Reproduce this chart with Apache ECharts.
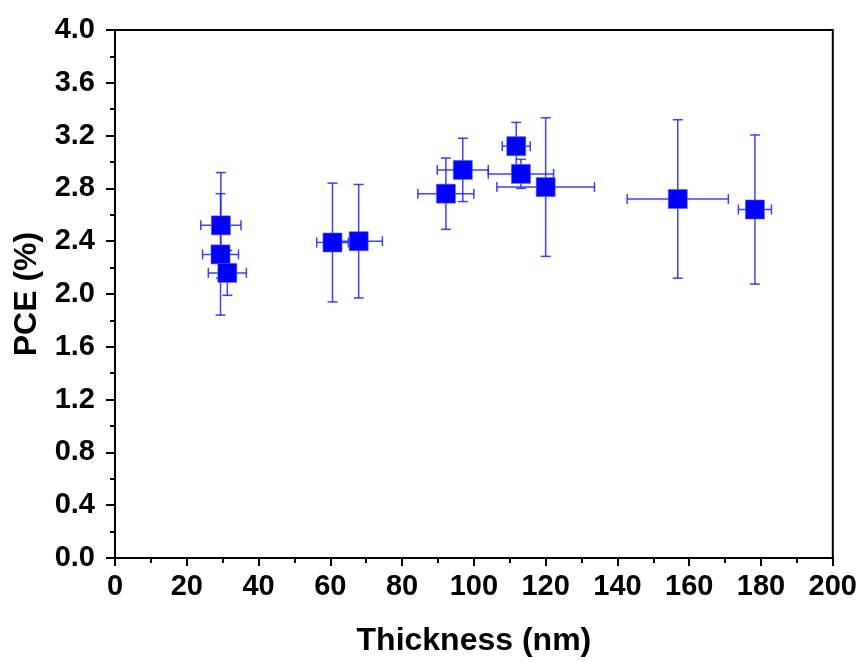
<!DOCTYPE html>
<html>
<head>
<meta charset="utf-8">
<script src="https://cdn.jsdelivr.net/npm/echarts@6/dist/echarts.min.js"></script>
<style>
  html, body { margin: 0; padding: 0; background: #fff; }
  #chart { width: 860px; height: 662px; }
</style>
</head>
<body>
<div id="chart"></div>
<script>
// thickness (nm) and PCE (%) with their error bars
const thickness = [29.5, 29.4, 31.3, 60.6, 67.9, 92.2, 96.9, 111.8, 113.1, 120.0, 156.8, 178.3];
const pce = [2.52, 2.30, 2.16, 2.39, 2.40, 2.76, 2.94, 3.12, 2.91, 2.81, 2.72, 2.64];
const thicknessErr = [5.6, 5.0, 5.3, 4.4, 6.6, 7.8, 7.1, 3.9, 9.1, 13.6, 14.1, 4.6];
const pceErr = [0.40, 0.46, 0.17, 0.45, 0.43, 0.27, 0.24, 0.18, 0.11, 0.525, 0.60, 0.565];

const points = thickness.map((t, i) => [t, pce[i]]);
const errRows = thickness.map((t, i) => [t, pce[i], thicknessErr[i], pceErr[i]]);

const font = "'Liberation Sans', Arial, sans-serif";
const errColor = "rgba(30,30,255,0.85)";
const cap = 5;

function renderErr(params, api) {
  const x = api.value(0), y = api.value(1), dx = api.value(2), dy = api.value(3);
  const c = api.coord([x, y]);
  const l = api.coord([x - dx, y]), r = api.coord([x + dx, y]);
  const t = api.coord([x, y + dy]), b = api.coord([x, y - dy]);
  const style = { stroke: errColor, lineWidth: 1.5 };
  const line = (x1, y1, x2, y2) => ({ type: "line", shape: { x1, y1, x2, y2 }, style });
  return {
    type: "group",
    children: [
      line(l[0], c[1], r[0], c[1]),
      line(l[0], c[1] - cap, l[0], c[1] + cap),
      line(r[0], c[1] - cap, r[0], c[1] + cap),
      line(c[0], t[1], c[0], b[1]),
      line(c[0] - cap, t[1], c[0] + cap, t[1]),
      line(c[0] - cap, b[1], c[0] + cap, b[1]),
    ],
  };
}

const chart = echarts.init(document.getElementById("chart"));
chart.setOption({
  animation: false,
  grid: {
    left: 115, right: 26, top: 30, bottom: 102,
    show: true, borderColor: "#000", borderWidth: 2, backgroundColor: "transparent",
  },
  xAxis: {
    type: "value",
    min: 0, max: 200, interval: 20,
    name: "Thickness (nm)",
    nameLocation: "middle",
    nameGap: 67,
    nameTextStyle: { fontFamily: font, fontWeight: "bold", fontSize: 32, color: "#000" },
    axisLine: { show: true, onZero: false, lineStyle: { color: "#000", width: 2 } },
    axisTick: { show: true, inside: false, length: 8, lineStyle: { color: "#000", width: 2 } },
    minorTick: { show: true, splitNumber: 2, length: 5, lineStyle: { color: "#000", width: 2 } },
    axisLabel: { fontFamily: font, fontWeight: "bold", fontSize: 29, color: "#000", margin: 14 },
    splitLine: { show: false },
  },
  yAxis: {
    type: "value",
    min: 0, max: 4, interval: 0.4,
    name: "PCE (%)",
    nameLocation: "middle",
    nameGap: 72,
    nameTextStyle: { fontFamily: font, fontWeight: "bold", fontSize: 32, color: "#000" },
    axisLine: { show: true, onZero: false, lineStyle: { color: "#000", width: 2 } },
    axisTick: { show: true, inside: false, length: 9, lineStyle: { color: "#000", width: 2 } },
    minorTick: { show: true, splitNumber: 2, length: 5, lineStyle: { color: "#000", width: 2 } },
    axisLabel: {
      fontFamily: font, fontWeight: "bold", fontSize: 29, color: "#000", margin: 20,
      formatter: (v) => v.toFixed(1),
    },
    splitLine: { show: false },
  },
  series: [
    {
      type: "custom",
      data: errRows,
      renderItem: renderErr,
      z: 1,
      silent: true,
    },
    {
      type: "scatter",
      data: points,
      symbol: "rect",
      symbolSize: 19,
      itemStyle: { color: "#0000ff", opacity: 1, borderColor: "rgba(90,90,255,0.6)", borderWidth: 1 },
      z: 3,
    },
  ],
});
</script>
</body>
</html>
